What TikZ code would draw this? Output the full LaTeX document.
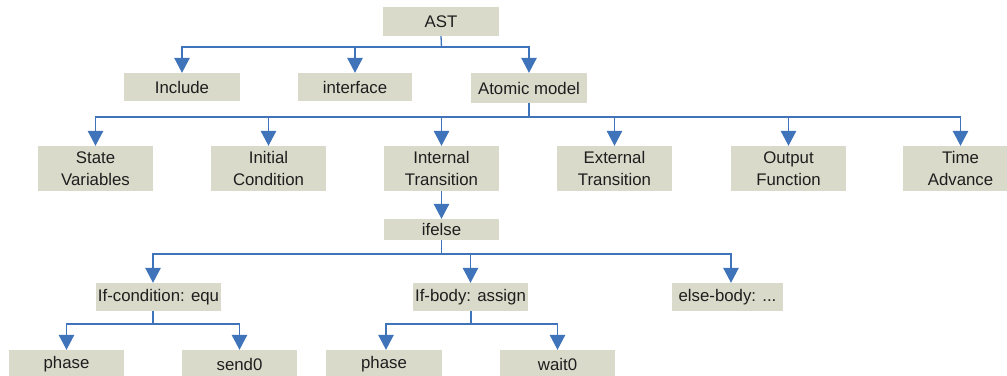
\documentclass[tikz,border=0pt]{standalone}
\usepackage{fontspec}
\setmainfont{Liberation Sans}
\usetikzlibrary{arrows.meta}
\definecolor{boxfill}{RGB}{217,218,202}
\definecolor{linkblue}{RGB}{64,116,186}
\definecolor{txt}{RGB}{30,30,30}
\tikzset{
  treebox/.style={fill=boxfill, draw=none, text=txt, align=center,
    inner sep=0pt, minimum width=115pt, minimum height=28pt,
    font=\fontsize{16.8}{21.5}\selectfont},
  tall/.style={minimum height=45pt},
  link/.style={draw=linkblue, line width=1.3pt},
  linkarrow/.style={link, -{Triangle[width=15.5pt,length=15pt]}}
}
\begin{document}
\begin{tikzpicture}[x=1pt,y=-1pt]
\clip (0,0) rectangle (1007,375);
\fill[white] (0,0) rectangle (1007,375);

% root and first level
\node[treebox, minimum width=116pt, minimum height=29pt] (ast) at (441,21.5) {AST};
\node[treebox, minimum width=116pt] (inc) at (182,87) {Include};
\node[treebox, minimum width=114pt] (intf) at (355,87) {interface};
\node[treebox, minimum width=116pt, minimum height=30pt] (atom) at (529,88) {Atomic model};

% parts of the atomic model
\node[treebox, tall] (sv) at (95.5,168.5) {State\\Variables};
\node[treebox, tall] (ic) at (268.5,168.5) {Initial\\Condition};
\node[treebox, tall] (it) at (441.5,168.5) {Internal\\Transition};
\node[treebox, tall] (et) at (614.5,168.5) {External\\Transition};
\node[treebox, tall] (of) at (788.5,168.5) {Output\\Function};
\node[treebox, tall] (ta) at (960.5,168.5) {Time\\Advance};

% body of the internal transition
\node[treebox, minimum height=21pt] (ife) at (441.5,229.5) {ifelse};
\node[treebox, minimum width=125pt] (cond) at (158.5,297) {If-condition: equ};
\node[treebox] (body) at (470.5,297) {If-body: assign};
\node[treebox, minimum width=111pt] (else) at (727.5,297) {else-body: ...};

\node[treebox] (ph1) at (66.5,364) {phase};
\node[treebox] (snd) at (239.5,364) {send0};
\node[treebox, minimum width=116pt] (ph2) at (384,364) {phase};
\node[treebox] (wt) at (557.5,364) {wait0};

% bus points
\coordinate (b0) at (441.5,47);
\coordinate (b1) at (529,117);
\coordinate (b2) at (441.5,254);
\coordinate (b3) at (153,324);
\coordinate (b4) at (471,324);

% AST -> first level
\draw[link] (ast.south) -- (b0);
\draw[linkarrow] (b0) -| (inc.north);
\draw[linkarrow] (b0) -| (intf.north);
\draw[linkarrow] (b0) -| (atom.north);

% Atomic model -> its parts
\draw[link] (atom.south) -- (b1);
\foreach \n in {sv,ic,it,et,of,ta}
  \draw[linkarrow] (b1) -| (\n.north);

% Internal Transition -> ifelse
\draw[linkarrow] (it.south) -- (ife.north);

% ifelse -> branches
\draw[link] (ife.south) -- (b2);
\draw[linkarrow] (b2) -| (b3 |- cond.north);
\draw[linkarrow] (b2) -| (body.north);
\draw[linkarrow] (b2) -| ([xshift=3.5pt]else.north);

% If-condition -> operands
\draw[link] (b3 |- cond.south) -- (b3);
\draw[linkarrow] (b3) -| (ph1.north);
\draw[linkarrow] (b3) -| (snd.north);

% If-body -> operands
\draw[link] (b4 |- body.south) -- (b4);
\draw[linkarrow] (b4) -| ([xshift=2pt]ph2.north);
\draw[linkarrow] (b4) -| (wt.north);
\end{tikzpicture}
\end{document}
